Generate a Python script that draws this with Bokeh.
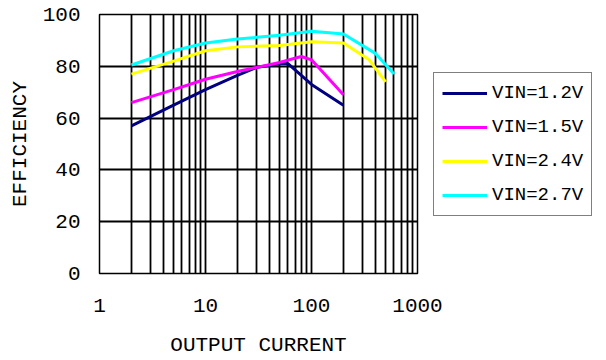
from bokeh.plotting import figure
from bokeh.models import FixedTicker, Legend, LegendItem
from bokeh.embed import file_html
from bokeh.resources import INLINE

# Data
x_12 = [2, 5, 10, 20, 30, 50, 60, 100, 200]
y_12 = [57, 65, 71, 76.5, 79.5, 81, 81, 73, 65]

x_15 = [2, 5, 10, 20, 50, 80, 100, 200]
y_15 = [66, 71, 75, 78, 81.5, 83.8, 82.5, 69]

x_24 = [2, 5, 10, 20, 50, 100, 200, 350, 500]
y_24 = [77, 82, 86, 87.5, 88, 89.5, 89, 82.5, 74]

x_27 = [2, 5, 10, 20, 50, 100, 200, 400, 600]
y_27 = [80.5, 86, 89, 90.5, 92, 93.5, 92.5, 85, 77]

series_labels = ["VIN=1.2V", "VIN=1.5V", "VIN=2.4V", "VIN=2.7V"]
series_colors = ["#000080", "#FF00FF", "#FFFF00", "#00FFFF"]

x_major_ticks = [1, 10, 100, 1000]
x_minor_ticks = [2, 3, 4, 5, 6, 7, 8, 9,
                 20, 30, 40, 50, 60, 70, 80, 90,
                 200, 300, 400, 500, 600, 700, 800, 900]
y_ticks = [0, 20, 40, 60, 80, 100]

FONT = "Liberation Mono"
FS = "21px"

p = figure(frame_width=318, frame_height=259, x_axis_type="log",
           x_range=(1, 1000), y_range=(0, 100),
           output_backend="svg", toolbar_location=None,
           min_border_left=99, min_border_right=0,
           min_border_top=14, min_border_bottom=87)

p.background_fill_color = "white"
p.border_fill_color = "white"
p.outline_line_color = "black"
p.outline_line_width = 1.5

p.xaxis.ticker = FixedTicker(ticks=x_major_ticks, minor_ticks=x_minor_ticks)
p.yaxis.ticker = FixedTicker(ticks=y_ticks)
p.xaxis.major_label_overrides = {1: "1", 10: "10", 100: "100", 1000: "1000"}

for ax in (p.xaxis, p.yaxis):
    ax.axis_line_color = None
    ax.major_tick_line_color = None
    ax.minor_tick_line_color = None
    ax.major_tick_out = 0
    ax.minor_tick_out = 0
    ax.major_tick_in = 0
    ax.minor_tick_in = 0
    ax.major_label_text_font = FONT
    ax.major_label_text_font_size = FS
    ax.major_label_text_color = "black"
    ax.axis_label_text_font = FONT
    ax.axis_label_text_font_size = FS
    ax.axis_label_text_font_style = "normal"
    ax.axis_label_text_color = "black"

p.xaxis.axis_label = "OUTPUT CURRENT"
p.yaxis.axis_label = "EFFICIENCY"
p.xaxis.major_label_standoff = 25
p.xaxis.axis_label_standoff = 19
p.yaxis.major_label_standoff = 19
p.yaxis.axis_label_standoff = 8

p.xgrid.grid_line_color = "black"
p.xgrid.grid_line_width = 1.8
p.xgrid.minor_grid_line_color = "black"
p.xgrid.minor_grid_line_width = 1.8
p.ygrid.grid_line_color = "black"
p.ygrid.grid_line_width = 1.8

xs = [x_12, x_15, x_24, x_27]
ys = [y_12, y_15, y_24, y_27]
items = []
for xv, yv, lab, col in zip(xs, ys, series_labels, series_colors):
    r = p.line(xv, yv, line_color=col, line_width=3)
    items.append(LegendItem(label=lab, renderers=[r]))

legend = Legend(items=items, location="left",
                label_text_font=FONT, label_text_font_size="19px",
                label_text_color="black",
                glyph_width=45, glyph_height=24, label_height=24,
                label_standoff=5, spacing=10, padding=8, margin=16,
                border_line_color="black", border_line_width=1.5,
                background_fill_color="white", background_fill_alpha=1.0)
p.add_layout(legend, "right")

open("out.html", "w").write(file_html(p, INLINE))
